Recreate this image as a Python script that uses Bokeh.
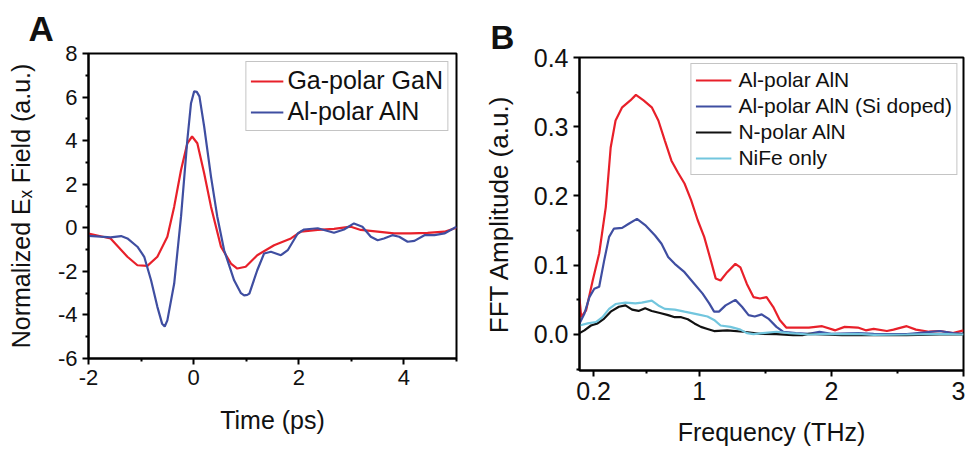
from bokeh.plotting import figure
from bokeh.layouts import row, column
from bokeh.models import FixedTicker, Legend, LegendItem, Range1d, NumeralTickFormatter, Title
from bokeh.embed import file_html
from bokeh.resources import INLINE

# ---------------- data: panel A (time domain) ----------------
t_gan = [-2.0, -1.58, -1.26, -1.07, -0.88, -0.69, -0.50, -0.37, -0.24, -0.12, -0.03, 0.07, 0.20, 0.33,
         0.52, 0.71, 0.83, 0.99, 1.21, 1.53, 1.85, 2.04, 2.36, 2.67, 2.99, 3.18, 3.50, 3.81, 4.13,
         4.45, 4.77, 5.0]
e_gan = [-0.26, -0.49, -1.33, -1.72, -1.75, -1.33, -0.41, 0.97, 2.65, 3.88, 4.19, 3.88, 2.50, 0.97,
         -0.87, -1.64, -1.87, -1.79, -1.26, -0.80, -0.49, -0.18, -0.10, -0.05, 0.05, -0.10, -0.18,
         -0.26, -0.26, -0.23, -0.18, 0.0]
t_aln = [-2.0, -1.77, -1.58, -1.38, -1.26, -1.07, -0.94, -0.81, -0.69, -0.60, -0.55, -0.50, -0.37,
         -0.24, -0.12, -0.05, 0.01, 0.06, 0.11, 0.20, 0.33, 0.45, 0.58, 0.77, 0.90, 0.96, 1.02,
         1.06, 1.21, 1.34, 1.47, 1.66, 1.79, 1.98, 2.10, 2.36, 2.67, 2.86, 3.05, 3.21, 3.37, 3.50,
         3.62, 3.78, 3.91, 4.07, 4.20, 4.39, 4.58, 4.77, 5.0]
e_aln = [-0.37, -0.41, -0.44, -0.38, -0.49, -0.87, -1.33, -2.41, -3.63, -4.40, -4.53, -4.25, -2.56,
         0.51, 4.03, 5.72, 6.26, 6.24, 6.03, 4.65, 2.35, 0.51, -1.03, -2.41, -3.00, -3.10, -3.08,
         -3.02, -1.95, -1.18, -1.10, -1.26, -1.03, -0.26, -0.08, -0.02, -0.23, -0.08, 0.20, 0.05,
         -0.41, -0.57, -0.49, -0.34, -0.41, -0.64, -0.60, -0.34, -0.34, -0.26, 0.05]

# ---------------- data: panel B (spectra) ----------------
f_al = [0.093, 0.106, 0.143, 0.193, 0.242, 0.292, 0.329, 0.366, 0.416, 0.478, 0.52, 0.578, 0.64,
        0.69, 0.739, 0.789, 0.838, 0.888, 0.938, 0.988, 1.037, 1.087, 1.124, 1.161, 1.211, 1.273,
        1.311, 1.36, 1.41, 1.46, 1.509, 1.559, 1.609, 1.658, 1.83, 1.93, 2.03, 2.10, 2.20, 2.26,
        2.32, 2.42, 2.47, 2.57, 2.64, 2.74, 2.82, 2.92, 3.0]
a_al = [0.052, 0.025, 0.035, 0.078, 0.117, 0.184, 0.270, 0.309, 0.328, 0.338, 0.346, 0.338, 0.328,
        0.309, 0.280, 0.251, 0.234, 0.218, 0.194, 0.165, 0.141, 0.107, 0.081, 0.078, 0.090, 0.102,
        0.097, 0.073, 0.054, 0.052, 0.054, 0.040, 0.021, 0.010, 0.010, 0.012, 0.006, 0.011, 0.010,
        0.006, 0.008, 0.005, 0.007, 0.012, 0.007, 0.004, 0.005, 0.002, 0.006]
f_si = [0.093, 0.130, 0.168, 0.205, 0.242, 0.28, 0.317, 0.354, 0.416, 0.466, 0.528, 0.59, 0.665,
        0.714, 0.764, 0.814, 0.888, 0.963, 1.025, 1.075, 1.112, 1.149, 1.199, 1.273, 1.323, 1.373,
        1.42, 1.472, 1.522, 1.584, 1.634, 1.73, 1.83, 1.91, 2.0, 2.2, 2.32, 2.57, 2.82, 2.92, 3.0]
a_si = [0.016, 0.030, 0.054, 0.066, 0.069, 0.107, 0.141, 0.153, 0.154, 0.160, 0.167, 0.158, 0.143,
        0.131, 0.112, 0.102, 0.090, 0.073, 0.059, 0.045, 0.033, 0.033, 0.042, 0.050, 0.040, 0.028,
        0.026, 0.029, 0.023, 0.011, 0.004, 0.002, 0.001, 0.004, 0.001, 0.002, 0.001, 0.0005, 0.005,
        0.002, 0.001]
f_n = [0.093, 0.13, 0.18, 0.23, 0.28, 0.329, 0.391, 0.441, 0.491, 0.54, 0.59, 0.64, 0.702, 0.764,
       0.814, 0.863, 0.913, 0.963, 1.012, 1.062, 1.112, 1.211, 1.335, 1.46, 1.584, 1.71, 1.78, 1.83,
       2.08, 2.32, 2.57, 2.82, 3.0]
a_n = [0.002, 0.006, 0.013, 0.016, 0.023, 0.033, 0.040, 0.042, 0.036, 0.034, 0.038, 0.034, 0.031,
       0.028, 0.025, 0.025, 0.022, 0.016, 0.011, 0.008, 0.005, 0.006, 0.004, 0.001, 0.0005, -0.001,
       -0.001, 0.001, -0.001, -0.001, -0.001, 0.0, 0.0]
f_nife = [0.093, 0.155, 0.217, 0.267, 0.317, 0.366, 0.441, 0.516, 0.565, 0.64, 0.69, 0.739, 0.814,
          0.888, 0.988, 1.062, 1.112, 1.161, 1.236, 1.311, 1.36, 1.41, 1.48, 1.584, 1.68, 1.83,
          1.956, 2.08, 2.2, 2.32, 2.57, 2.82, 3.0]
a_nife = [0.013, 0.016, 0.018, 0.025, 0.037, 0.044, 0.046, 0.045, 0.046, 0.049, 0.042, 0.037,
          0.036, 0.033, 0.029, 0.026, 0.021, 0.013, 0.011, 0.007, 0.002, 0.0005, 0.002, 0.004,
          0.002, 0.0, 0.001, 0.0005, 0.001, -0.0005, 0.0, 0.001, 0.0]

a_ticks_x = [-2, 0, 2, 4]
a_tick_labels_x = ["-2", "0", "2", "4"]
a_minor_x = [-1, 1, 3, 5]
a_ticks_y = [-6, -4, -2, 0, 2, 4, 6, 8]
a_tick_labels_y = ["-6", "-4", "-2", "0", "2", "4", "6", "8"]
a_minor_y = [-5, -3, -1, 1, 3, 5, 7]
b_ticks_x = [0.2, 1, 2, 3]
b_tick_labels_x = ["0.2", "1", "2", "3"]
b_minor_x = [0.6, 1.5, 2.5]
b_ticks_y = [0.0, 0.1, 0.2, 0.3, 0.4]
b_minor_y = [-0.05, 0.05, 0.15, 0.25, 0.35]

RED = "#e8202a"
BLUE = "#3f4ea1"
BLACK = "#111111"
CYAN = "#72c6de"
FONT = "Liberation Sans"
H = 449


def style(p, tick_size):
    p.outline_line_color = "black"
    p.outline_line_width = 2
    p.grid.visible = False
    p.background_fill_color = "white"
    p.border_fill_color = "white"
    for ax in (p.xaxis[0], p.yaxis[0]):
        ax.axis_line_width = 2
        ax.axis_line_color = "black"
        ax.major_tick_line_width = 2
        ax.minor_tick_line_width = 2
        ax.major_tick_out = 6
        ax.major_tick_in = 0
        ax.minor_tick_out = 3
        ax.minor_tick_in = 0
        ax.major_label_text_font = FONT
        ax.major_label_text_font_size = tick_size
        ax.major_label_text_color = "#111111"
        ax.major_label_text_line_height = 1.0
        ax.axis_label_text_font = FONT
        ax.axis_label_text_font_style = "normal"
        ax.axis_label_text_color = "#111111"
        ax.axis_label_text_line_height = 1.0
        ax.major_label_standoff = 5


# ---------------- panel A ----------------
A_W = 480
pA = figure(width=A_W, height=H, output_backend="svg", toolbar_location=None,
            x_range=Range1d(-2, 5), y_range=Range1d(-6, 8),
            min_border_left=88, min_border_right=A_W - 88 - 368,
            min_border_top=53, min_border_bottom=H - 53 - 305)
style(pA, "22px")
pA.xaxis.ticker = FixedTicker(ticks=a_ticks_x, minor_ticks=a_minor_x)
pA.xaxis.major_label_overrides = dict(zip(a_ticks_x, a_tick_labels_x))
pA.yaxis.ticker = FixedTicker(ticks=a_ticks_y, minor_ticks=a_minor_y)
pA.yaxis.major_label_overrides = dict(zip(a_ticks_y, a_tick_labels_y))
pA.xaxis.axis_label = "Time (ps)"
pA.xaxis.axis_label_text_font_size = "25px"
pA.xaxis.axis_label_standoff = 18
pA.yaxis.axis_label = "Normalized E\u2093 Field (a.u.)"
pA.yaxis.axis_label_text_font_size = "25px"
pA.yaxis.axis_label_standoff = 20

rA1 = pA.line(t_gan, e_gan, line_color=RED, line_width=2.2)
rA2 = pA.line(t_aln, e_aln, line_color=BLUE, line_width=2.2)
legA = Legend(items=[LegendItem(label="Ga-polar GaN", renderers=[rA1]),
                     LegendItem(label="Al-polar AlN", renderers=[rA2])],
              location="top_right", margin=8, padding=4, spacing=2,
              glyph_width=33, glyph_height=26, label_height=26, label_standoff=4,
              label_text_font=FONT, label_text_font_size="25px", label_text_color="#111111",
              border_line_color="#8a8a8a", border_line_width=1.2,
              background_fill_color="white", background_fill_alpha=1)
pA.add_layout(legA)
pA.add_layout(Title(text="A", align="left", offset=-60, standoff=12, text_font=FONT,
                    text_font_size="35px", text_font_style="bold", text_color="#111111"), "above")

# ---------------- panel B ----------------
B_W = 485
B_LEFT = 573 - 480
B_FW = 963 - 573
pB = figure(width=B_W, height=H, output_backend="svg", toolbar_location=None,
            x_range=Range1d(0.093, 3.0), y_range=Range1d(-0.052, 0.4),
            min_border_left=B_LEFT, min_border_right=B_W - B_LEFT - B_FW,
            min_border_top=57, min_border_bottom=H - 57 - 313)
style(pB, "25px")
pB.xaxis.ticker = FixedTicker(ticks=b_ticks_x, minor_ticks=b_minor_x)
pB.xaxis.major_label_overrides = dict(zip(b_ticks_x, b_tick_labels_x))
pB.yaxis.ticker = FixedTicker(ticks=b_ticks_y, minor_ticks=b_minor_y)
pB.yaxis.formatter = NumeralTickFormatter(format="0.0")
pB.xaxis.axis_label = "Frequency (THz)"
pB.xaxis.axis_label_text_font_size = "25px"
pB.xaxis.axis_label_standoff = 15
pB.yaxis.axis_label = "FFT Amplitude (a.u.)"
pB.yaxis.axis_label_text_font_size = "26px"
pB.yaxis.axis_label_standoff = 17

rB1 = pB.line(f_al, a_al, line_color=RED, line_width=2.2)
rB2 = pB.line(f_si, a_si, line_color=BLUE, line_width=2.2)
rB3 = pB.line(f_n, a_n, line_color=BLACK, line_width=2.2)
rB4 = pB.line(f_nife, a_nife, line_color=CYAN, line_width=2.2)
legB = Legend(items=[LegendItem(label="Al-polar AlN", renderers=[rB1]),
                     LegendItem(label="Al-polar AlN (Si doped)", renderers=[rB2]),
                     LegendItem(label="N-polar AlN", renderers=[rB3]),
                     LegendItem(label="NiFe only", renderers=[rB4])],
              location="top_right", margin=6, padding=4, spacing=2,
              glyph_width=36, glyph_height=24, label_height=24, label_standoff=7,
              label_text_font=FONT, label_text_font_size="21px", label_text_color="#111111",
              border_line_color="#8a8a8a", border_line_width=1.2,
              background_fill_color="white", background_fill_alpha=1)
pB.add_layout(legB)
pB.add_layout(Title(text="B", align="left", offset=-89, standoff=3, text_font=FONT,
                    text_font_size="33px", text_font_style="bold", text_color="#111111"), "above")

layout = row(column(pA), column(pB))
open("out.html", "w").write(file_html(layout, INLINE))
